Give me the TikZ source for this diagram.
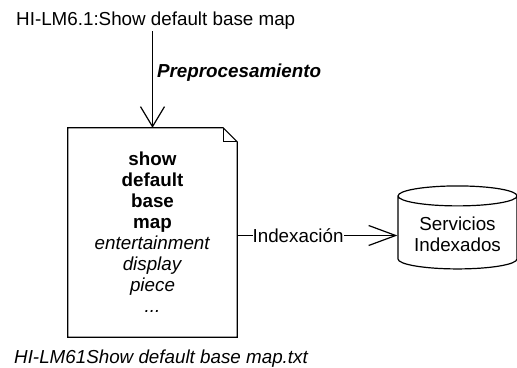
\documentclass[tikz,border=0pt]{standalone}
\usepackage{fontspec}
\setmainfont{Liberation Sans}
\usetikzlibrary{arrows.meta,positioning,shapes.geometric}

\tikzset{
  txt/.style={font=\fontsize{18.8}{21}\selectfont, inner sep=2pt},
  flow/.style={line width=1.2pt, -{Straight Barb[length=20pt,width=24pt,line width=1.2pt]}},
  docbox/.style={txt, align=center, minimum width=169pt, minimum height=209pt},
  store/.style={txt, align=center, draw, line width=1.2pt, cylinder, shape border rotate=90,
    aspect=0.22, minimum width=119pt, minimum height=83pt},
}

\begin{document}
\begin{tikzpicture}[x=1pt,y=-1pt]
  \useasboundingbox (0,0) rectangle (517,367);
  \node[txt, anchor=base west] (title) at (14,25) {HI-LM6.1:Show default base map};
  \node[docbox] (doc) at (152.5,232.5) {\textbf{show}\\\textbf{default}\\\textbf{base}\\\textbf{map}\\
    \textit{entertainment}\\\textit{display}\\\textit{piece}\\\textit{...}};
  \node[store] (serv) at (457.5,234) {Servicios\\Indexados};
  \node[txt, anchor=base west] (file) at (12,363) {\textit{HI-LM61Show default base map.txt}};
  % fichero con esquina doblada
  \draw[line width=1.2pt] (doc.north west) -- ([xshift=-14pt]doc.north east) -- ([yshift=-14pt]doc.north east)
    -- (doc.south east) -- (doc.south west) -- cycle;
  \draw[line width=1.2pt] ([xshift=-14pt]doc.north east) -- ([xshift=-14pt,yshift=-14pt]doc.north east)
    -- ([yshift=-14pt]doc.north east);
  \draw[flow] (doc.north |- title.south) -- node[txt, pos=0.43, right, xshift=2pt] {\textbf{\textit{Preprocesamiento}}} (doc.north);
  \draw[flow, -{Straight Barb[length=27pt,width=20pt,line width=1.2pt]}] ([yshift=-3pt]doc.east)
    -- node[txt, pos=0.38, fill=white, inner sep=0pt] {Indexación} ([yshift=-3pt]doc.east -| serv.west);
\end{tikzpicture}
\end{document}
